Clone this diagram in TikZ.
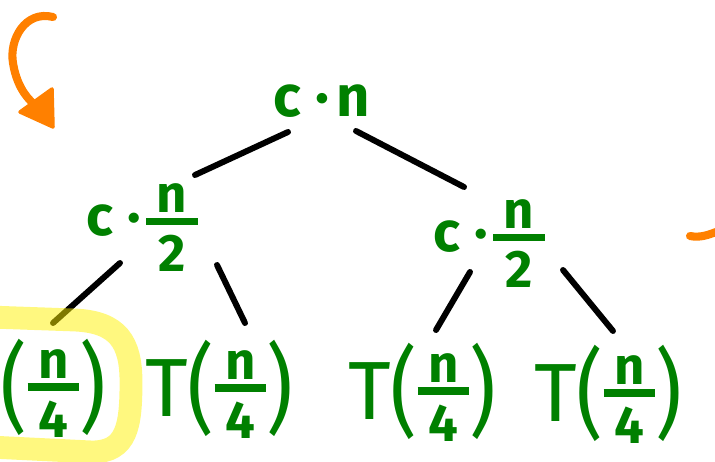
\documentclass[tikz,border=0pt]{standalone}
\usepackage{fontspec}
\usepackage{graphicx}
\setmainfont{Fira Sans}
\usetikzlibrary{calc}

\definecolor{inkgreen}{RGB}{0,128,0}
\definecolor{inkorange}{RGB}{255,128,0}

% pieces of the handwritten terms, all centred on the fraction bar
\newcommand{\fracfont}{\fontsize{30}{32}\selectfont\bfseries}
\newcommand{\vc}[1]{\vcenter{\hbox{#1}}}
\newcommand{\hfrac}[2]{\vcenter{\offinterlineskip\fracfont
  \halign{\hfil##\hfil\cr
    \vrule width 0pt height\dimexpr\fontcharht\font`4+3pt\relax #1\cr
    \noalign{\kern3pt}
    \vrule width 0.98em height 2pt depth 2pt\cr
    \noalign{\kern6pt}
    #2\cr}}}
\newcommand{\bigparen}[1]{\vc{\scalebox{1}[1.18]{#1}}}
\newcommand{\halfcost}{$\vc{c\hspace{0.25em}·\hspace{0.1em}}\hfrac{n}{2}$}
\newcommand{\quartercall}{$\vc{T}\bigparen{(}\hfrac{n}{4}\bigparen{)}$}

\begin{document}
\begin{tikzpicture}[x=0.02cm, y=-0.02cm,
    cost/.style={text=inkgreen, inner sep=0pt},
    edge/.style={line width=3.4pt, line cap=round},
    ink/.style={draw=inkorange, line width=4.6pt, line cap=round, line join=round}]
    \clip (0,0) rectangle (715,462);

    % =========================================================
    % LEVEL 0
    % =========================================================
    \node[cost, font=\fontsize{33}{36}\selectfont\bfseries] (root) at (322, 101)
        {c\hspace{0.25em}·\hspace{0.12em}n};

    % =========================================================
    % LEVEL 1
    % =========================================================
    \node[cost, font=\fontsize{32}{36}\selectfont\bfseries] (lhalf) at (142, 221) {\halfcost};
    \node[cost, font=\fontsize{32}{36}\selectfont\bfseries] (rhalf) at (489, 237) {\halfcost};

    % =========================================================
    % LEVEL 2
    % =========================================================
    \node[cost, font=\fontsize{47}{50}\selectfont] (q1) at (32, 387) {\quartercall};
    \node[cost, font=\fontsize{47}{50}\selectfont] (q2) at (219, 388) {\quartercall};
    \node[cost, font=\fontsize{47}{50}\selectfont] (q3) at (422, 391) {\quartercall};
    \node[cost, font=\fontsize{47}{50}\selectfont] (q4) at (608, 393) {\quartercall};

    % edges
    \draw[edge] ($(root)+(-34,31)$) -- ($(lhalf)+(53,-46)$);
    \draw[edge] ($(root)+(34,30)$) -- ($(rhalf)+(-25,-50)$);
    \draw[edge] ($(lhalf)+(-22,42)$) -- ($(q1)+(21,-64)$);
    \draw[edge] ($(lhalf)+(75,44)$) -- ($(q2)+(26,-65)$);
    \draw[edge] ($(rhalf)+(-19,35)$) -- ($(q3)+(14,-61)$);
    \draw[edge] ($(rhalf)+(74,33)$) -- ($(q4)+(5,-62)$);

    % highlight round the first leaf
    \draw[yellow, draw opacity=0.5, line width=13pt, line cap=round]
        (-10,317) -- (75,320) .. controls (118,322) and (131,342) .. (131,382)
        .. controls (131,426) and (127,452) .. (92,452) -- (-10,447);

    % orange marks
    \draw[ink] (53,17) .. controls (25,10) and (9,40) .. (13,63)
        .. controls (16,82) and (24,96) .. (35,105);
    \filldraw[ink, fill=inkorange, line width=2pt] (52,89) -- (20,112) -- (53,127) -- cycle;
    \draw[ink] (690,236) .. controls (700,238) and (708,235) .. (716,232);
\end{tikzpicture}
\end{document}
